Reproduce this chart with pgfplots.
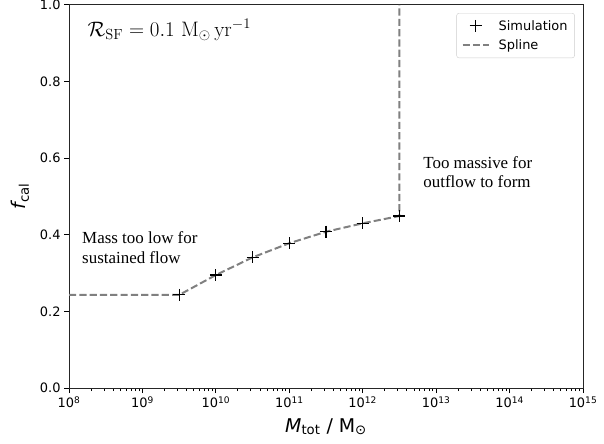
\RequirePackage{fix-cm}
\documentclass[border=0pt]{standalone}
\usepackage{fontspec}
\usepackage{pgfplots}
\pgfplotsset{compat=1.18}
\newfontfamily\dejavu{DejaVu Sans}
\newfontfamily\timesf{Liberation Serif}
\definecolor{splinegray}{RGB}{128,128,128}
\begin{document}
\begin{tikzpicture}
\begin{axis}[
  width=514bp, height=383bp, scale only axis,
  xmode=log, log basis x=10,
  xmin=1e8, xmax=1e15, ymin=0, ymax=1,
  xticklabel={\pgfmathparse{int(round(\tick))}10\textsuperscript{\pgfmathresult}},
  ytick={0,0.2,0.4,0.6,0.8,1.0},
  yminorticks=false,
  yticklabel style={/pgf/number format/.cd, fixed, fixed zerofill, precision=1, assume math mode=true},
  ticklabel style={font=\dejavu\fontsize{13}{15}\selectfont},
  tick align=outside, tick pos=left,
  major tick length=5bp, minor tick length=3.2bp,
  major tick style={black, line width=1bp},
  minor tick style={black, line width=1bp},
  axis line style={line width=1bp, black!85},
  xlabel={{\itshape M}\textsubscript{tot} / M\textsubscript{⊙}},
  ylabel={{\itshape f}\textsubscript{cal}},
  label style={font=\dejavu\fontsize{19}{22}\selectfont},
  xlabel style={at={(axis description cs:0.5,-0.1149)}, anchor=base},
  ylabel style={at={(axis description cs:-0.0953,0.5)}, anchor=center},
  reverse legend,
  legend cell align=left,
  legend style={at={(0.984,0.979)}, anchor=north east, draw=black!20, rounded corners=2.5bp,
    font=\dejavu\fontsize{13}{15}\selectfont, inner xsep=5bp, inner ysep=5bp, row sep=4bp,
    /tikz/every odd column/.append style={column sep=7bp}},
  legend image code/.code={
    \draw[#1, mark repeat=2, mark phase=2] plot coordinates {(0bp,0bp) (13bp,0bp) (26bp,0bp)};
  },
]
\addplot[splinegray, line width=2bp, dash pattern=on 7.2bp off 3.1bp] coordinates {
  (1e8,0.243) (3.1623e9,0.243) (1e10,0.295) (3.1623e10,0.341) (1e11,0.378)
  (3.1623e11,0.408) (1e12,0.430) (3.1623e12,0.449) (3.1623e12,1.0)
};
\addlegendentry{Spline}
\addplot[only marks, mark=+, mark size=6bp, mark options={line width=1.1bp, black}] coordinates {
  (3.1623e9,0.243) (1e10,0.295) (3.1623e10,0.341) (1e11,0.378)
  (3.1623e11,0.408) (1e12,0.430) (3.1623e12,0.449)
};
\addlegendentry{Simulation}
\node[anchor=base west, inner sep=0pt, font=\fontsize{21}{25}\selectfont] at (rel axis cs:0.036,0.919)
  {$\mathcal{R}_{\rm SF} = 0.1\ {\rm M}_\odot\,{\rm yr}^{-1}$};
\node[anchor=north west, inner sep=0pt, align=left, font=\timesf\fontsize{17}{20}\selectfont] at (rel axis cs:0.0253,0.41)
  {Mass too low for\\sustained flow};
\node[anchor=north west, inner sep=0pt, align=left, font=\timesf\fontsize{17}{20}\selectfont] at (rel axis cs:0.689,0.606)
  {Too massive for\\outflow to form};
\coordinate (bl) at (rel axis cs:0,0);
\coordinate (tr) at (rel axis cs:1,1);
\end{axis}
\pgfresetboundingbox
\path ([shift={(-69bp,-55bp)}]bl) rectangle ([shift={(21bp,5bp)}]tr);
\end{tikzpicture}
\end{document}
